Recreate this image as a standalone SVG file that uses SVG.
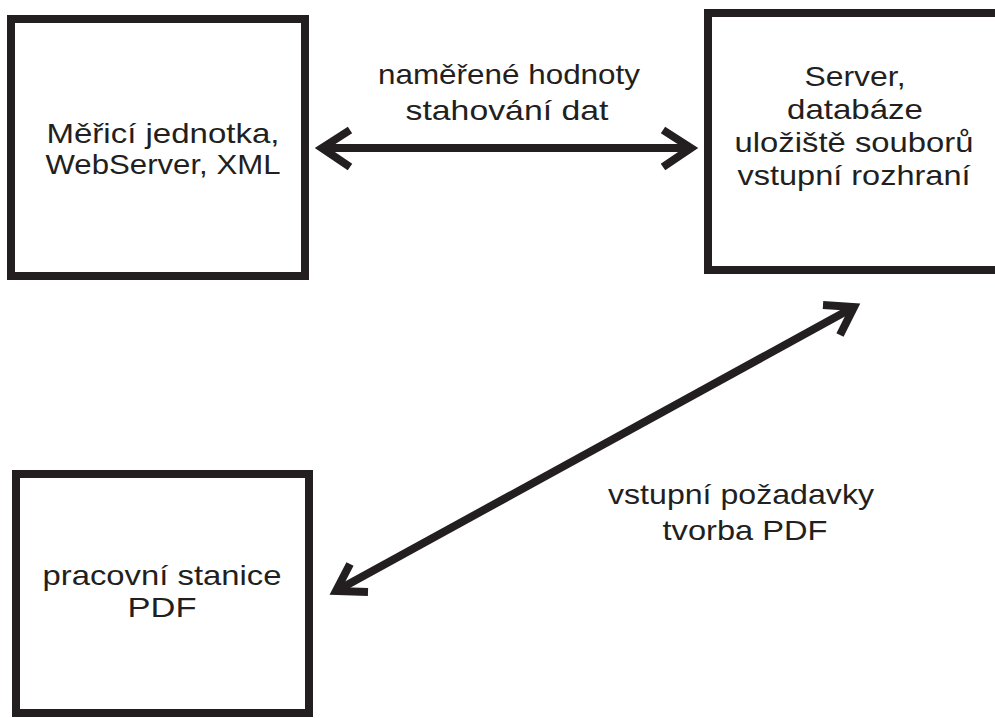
<svg xmlns="http://www.w3.org/2000/svg" width="995" height="718" viewBox="0 0 995 718">
  <style>
    .box { fill: #ffffff; stroke: #231f20; stroke-width: 8; }
    .lbl { font-family: "Liberation Sans", Arial, sans-serif; font-size: 28px; fill: #231f20; text-anchor: middle; }
    .conn { fill: none; stroke: #231f20; stroke-width: 8; stroke-linejoin: miter; }
  </style>
  <rect width="995" height="718" fill="#ffffff"/>

  <g id="node-mericka">
    <rect class="box" x="11" y="19" width="294" height="257"/>
    <text class="lbl" x="163" y="143" textLength="233" lengthAdjust="spacingAndGlyphs">Měřicí jednotka,</text>
    <text class="lbl" x="163" y="174" textLength="235" lengthAdjust="spacingAndGlyphs">WebServer, XML</text>
  </g>

  <g id="node-server">
    <rect class="box" x="708" y="13" width="300" height="257"/>
    <text class="lbl" x="855" y="86" textLength="101" lengthAdjust="spacingAndGlyphs">Server,</text>
    <text class="lbl" x="855" y="119" textLength="136" lengthAdjust="spacingAndGlyphs">databáze</text>
    <text class="lbl" x="854" y="152" textLength="239" lengthAdjust="spacingAndGlyphs">uložiště souborů</text>
    <text class="lbl" x="854" y="185" textLength="233" lengthAdjust="spacingAndGlyphs">vstupní rozhraní</text>
  </g>

  <g id="node-stanice">
    <rect class="box" x="16" y="474" width="293" height="239"/>
    <text class="lbl" x="162" y="585" textLength="239" lengthAdjust="spacingAndGlyphs">pracovní stanice</text>
    <text class="lbl" x="162" y="617" textLength="69" lengthAdjust="spacingAndGlyphs">PDF</text>
  </g>

  <g id="connectors">
    <!-- horizontal double arrow -->
    <line class="conn" x1="322" y1="148" x2="691" y2="148"/>
    <polyline class="conn" points="350,130 322,148 350,167"/>
    <polyline class="conn" points="663,130 691,148 663,167"/>
    <!-- diagonal double arrow -->
    <line class="conn" x1="336" y1="591" x2="854" y2="307"/>
    <polyline class="conn" points="350,564 336,591 368,592"/>
    <polyline class="conn" points="823,305 854,307 840,335"/>
  </g>

  <g id="labels">
    <text class="lbl" x="509" y="84" textLength="262" lengthAdjust="spacingAndGlyphs">naměřené hodnoty</text>
    <text class="lbl" x="507" y="120" textLength="203" lengthAdjust="spacingAndGlyphs">stahování dat</text>
    <text class="lbl" x="741" y="504" textLength="266" lengthAdjust="spacingAndGlyphs">vstupní požadavky</text>
    <text class="lbl" x="745" y="540" textLength="165" lengthAdjust="spacingAndGlyphs">tvorba PDF</text>
  </g>
</svg>
